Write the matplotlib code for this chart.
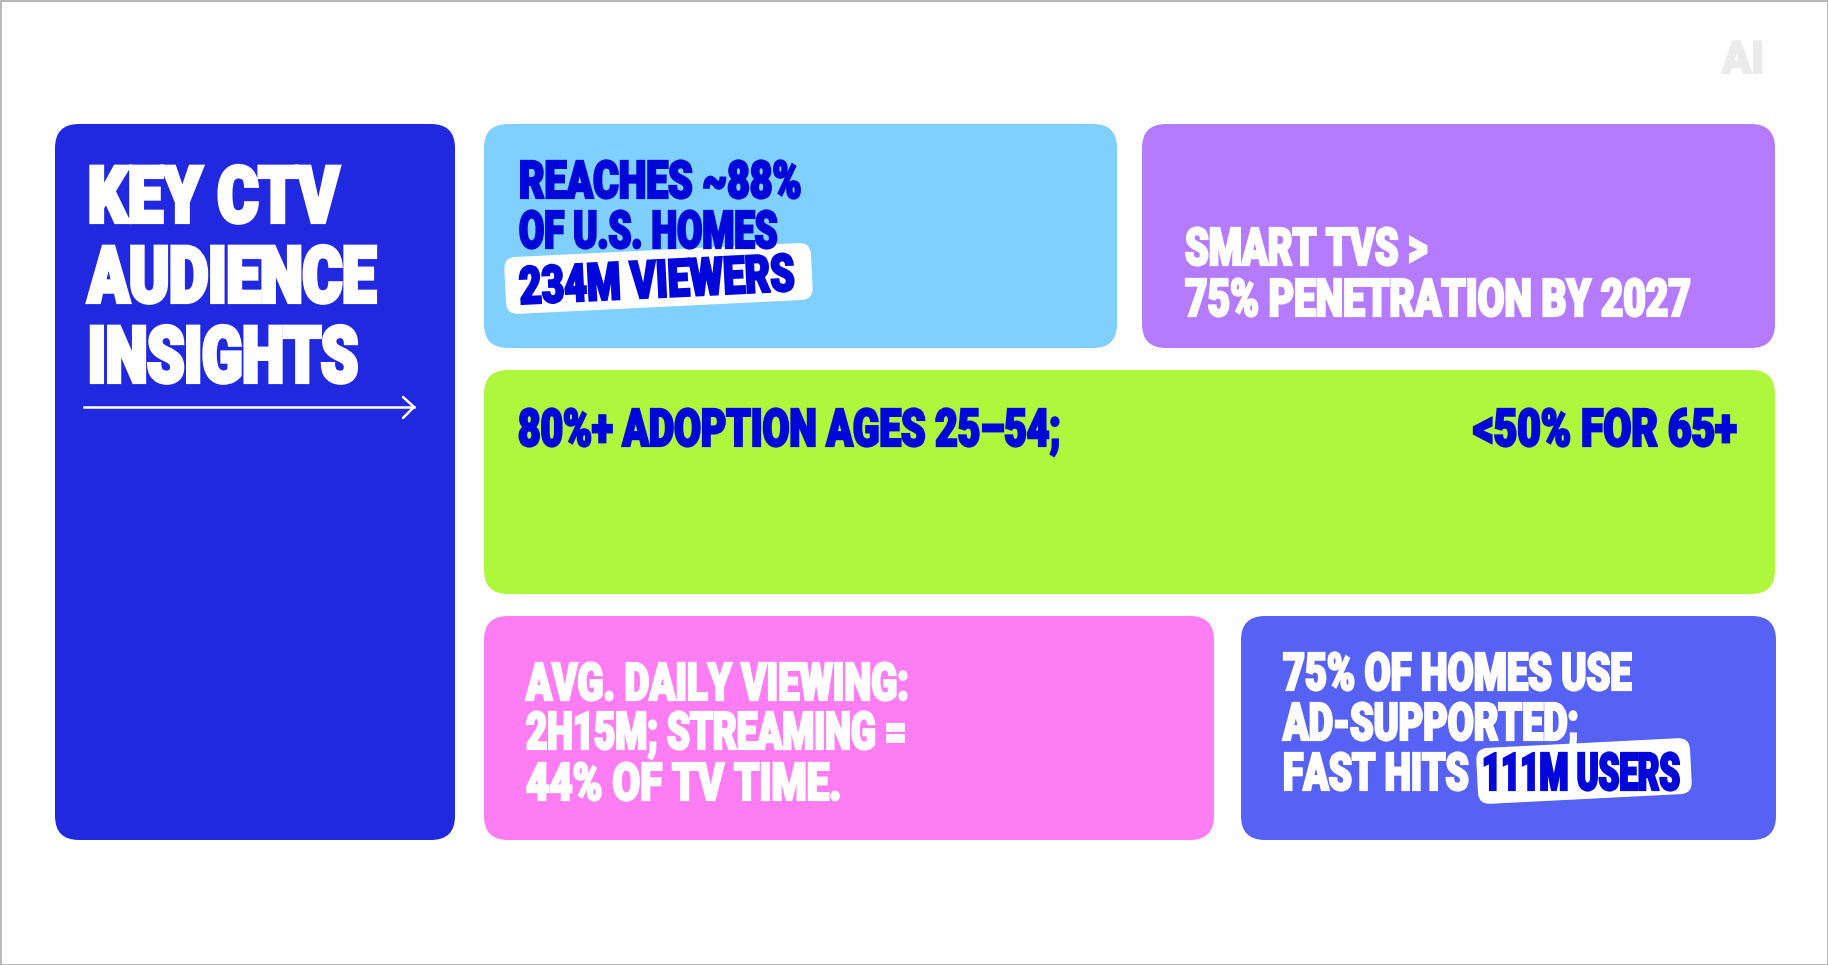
import matplotlib
matplotlib.use("Agg")
import matplotlib.pyplot as plt
from matplotlib.patches import FancyBboxPatch, Rectangle
from matplotlib.text import Text
from matplotlib.transforms import Affine2D
import matplotlib.patheffects as pe

# ---- content ----
title_lines = ["KEY CTV", "AUDIENCE", "INSIGHTS"]
reach_lines = ["REACHES ~88%", "OF U.S. HOMES"]
reach_highlight = "234M VIEWERS"
smart_lines = ["SMART TVS >", "75% PENETRATION BY 2027"]
adoption_left = "80%+ ADOPTION AGES 25–54;"
adoption_right = "<50% FOR 65+"
viewing_lines = ["AVG. DAILY VIEWING:", "2H15M; STREAMING =", "44% OF TV TIME."]
ads_lines = ["75% OF HOMES USE", "AD-SUPPORTED;"]
ads_fast = "FAST HITS"
ads_highlight = "111M USERS"
logo_text = "AI"

# ---- styles ----
NAVY, SKY, VIOLET, LIME, PINK, INDIGO = "#2129E0", "#7FCFFF", "#B57BFF", "#AFF73C", "#FF7DF3", "#5661F5"
INK = "#0007D8"
WHITE = "#FFFFFF"
FONT = "Roboto"
W, H = 1828, 965
BODY = 37.5  # size whose capitals are as tall as the reference's

fig = plt.figure(figsize=(W / 100, H / 100), dpi=100, facecolor="white")
ax = fig.add_axes([0, 0, 1, 1])
ax.set_xlim(0, W)
ax.set_ylim(H, 0)
ax.axis("off")
renderer = fig.canvas.get_renderer()


class Reshape(pe.AbstractPathEffect):
    """Scale glyph outlines about the text anchor and thicken them."""

    def __init__(self, shape, stroke, color):
        super().__init__()
        self.shape, self.stroke, self.color = shape, stroke, color

    def draw_path(self, rend, gc, tpath, affine, rgbFace=None):
        g = rend.new_gc()
        g.copy_properties(gc)
        g.set_linewidth(self.stroke)
        g.set_foreground(self.color)
        g.set_joinstyle("miter")
        rend.draw_path(g, tpath, affine + self.shape, rgbFace)
        g.restore()


def card(x0, y0, x1, y1, color, r=24, tf=None, z=1):
    p = FancyBboxPatch((x0 + r, y0 + r), x1 - x0 - 2 * r, y1 - y0 - 2 * r,
                       boxstyle=f"round,pad={r},rounding_size={r}", fc=color, ec="none", zorder=z)
    if tf is not None:
        p.set_transform(tf + ax.transData)
    ax.add_patch(p)


def label(x, y, s, color, width, height=BODY, size=None, stroke=1.6, ha="left", rot=0):
    size = size or height
    t = Text(x, y, s, color=color, fontsize=size, family=FONT, weight="black", ha=ha, va="baseline",
             rotation=rot, rotation_mode="anchor", zorder=5)
    ax.add_artist(t)
    t.set_rotation(0)
    natural = t.get_window_extent(renderer).width
    t.set_rotation(rot)
    ax_, ay_ = ax.transData.transform((x, y))
    shape = (Affine2D().translate(-ax_, -ay_).rotate_deg(-rot).scale(width / natural, height / size)
             .rotate_deg(rot).translate(ax_, ay_))
    t.set_path_effects([Reshape(shape, stroke, color)])
    return t


ax.add_patch(Rectangle((0.5, 0.5), W - 1, H - 1, fc="none", ec="#ABABAB", lw=1.2, zorder=10))

card(55, 124, 455, 840, NAVY)
card(484, 124, 1117, 348, SKY)
card(1142, 124, 1775, 348, VIOLET)
card(484, 370, 1775, 594, LIME)
card(484, 616, 1214, 840, PINK)
card(1241, 616, 1776, 840, INDIGO)

for base, s, w in zip([222, 302, 382], title_lines, [251, 288, 270]):
    label(88, base, s, WHITE, w, height=56, stroke=3)
ax.plot([84, 414], [407, 407], color=WHITE, lw=1.8, zorder=5)
ax.plot([403, 414, 403], [397, 407, 418], color=WHITE, lw=1.8, zorder=5,
        solid_capstyle="round", solid_joinstyle="miter")

for base, s, w in zip([198, 248], reach_lines, [283, 259]):
    label(519, base, s, INK, w)
card(505, 250, 812, 307, WHITE, r=12, tf=Affine2D().rotate_deg_around(658, 279, -2.8), z=3)
label(520, 304, reach_highlight, INK, 276, rot=2.8)

label(1185, 265, smart_lines[0], WHITE, 243)
label(1185, 316, smart_lines[1], WHITE, 506, size=33)

label(518, 446, adoption_left, INK, 543)
label(1737, 446, adoption_right, INK, 264, ha="right")

for base, s, w in zip([700, 749, 800], viewing_lines, [383, 381, 316]):
    label(526, base, s, WHITE, w)

for base, s, w in zip([690, 740], ads_lines, [349, 296]):
    label(1283, base, s, WHITE, w)
label(1283, 790, ads_fast, WHITE, 186, size=28)
card(1477, 743, 1691, 799, WHITE, r=12, tf=Affine2D().rotate_deg_around(1584, 771, -2.9), z=3)
label(1482, 790, ads_highlight, INK, 198, size=28)

label(1722, 73, logo_text, "#EBEBEB", 42, height=32, stroke=1.4)

fig.savefig("out.png", dpi=100, facecolor="white")
